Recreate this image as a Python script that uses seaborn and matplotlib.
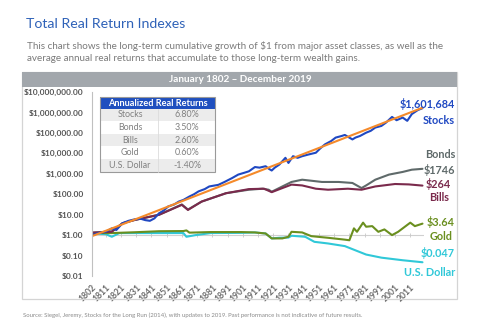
import matplotlib
matplotlib.use("Agg")
import matplotlib.pyplot as plt
import seaborn as sns
import pandas as pd
from matplotlib.patches import Rectangle
from matplotlib.lines import Line2D
from matplotlib.ticker import FuncFormatter, FixedLocator, NullLocator

# ---------------- data ----------------
stock_years = [1802, 1806, 1811, 1815, 1818, 1822, 1826, 1830, 1834, 1837, 1840, 1843, 1846,
               1849, 1852, 1856, 1859, 1862, 1866, 1869, 1872, 1876, 1879, 1882, 1885, 1889,
               1894, 1898, 1902, 1905, 1909, 1912, 1916, 1918, 1920, 1922, 1925, 1929, 1931,
               1934, 1937, 1940, 1944, 1949, 1952, 1955, 1959, 1962, 1966, 1968, 1973,
               1975, 1978, 1982, 1985, 1988, 1992, 1995, 1999, 2002, 2006, 2009, 2012, 2016,
               2019]
stock_values = [1.0, 1.26, 1.45, 2.14, 1.78, 3.8, 5.0, 5.9, 6.3, 5.4, 5.0, 6.6, 11.7,
                15.8, 25.1, 31.6, 43.7, 52.5, 77.6, 100, 138, 178, 240, 263, 288, 398,
                617, 912, 1122, 1318, 2138, 1995, 2344, 1778, 1445, 1995, 2818, 6026, 3388,
                7244, 6026, 7244, 8710, 10720, 17780, 27540, 39810, 58880, 70790, 79430,
                47860, 58880, 70790, 102300, 125900, 182000, 218800, 316200, 602600, 416900,
                562300, 389000, 831800, 1318000, 1601684]

trend_years = [1802, 2019]
trend_values = [0.89, 1700000]

bond_years = [1802, 1815, 1822, 1830, 1846, 1861, 1865, 1874, 1890, 1905, 1914, 1918, 1920,
              1927, 1933, 1940, 1946, 1953, 1964, 1973, 1979, 1982, 1988, 1997, 2006, 2012,
              2019]
bond_values = [1.32, 1.51, 3.8, 5.5, 10, 31.6, 17.8, 43.7, 112, 166, 186, 166, 132,
               240, 398, 513, 457, 398, 398, 355, 200, 269, 513, 912, 1230, 1585, 1746]

bill_years = [1802, 1815, 1822, 1830, 1846, 1861, 1865, 1874, 1890, 1905, 1915, 1920, 1927,
              1933, 1940, 1949, 1957, 1970, 1979, 1988, 2001, 2010, 2019]
bill_values = [1.32, 1.45, 3.8, 5.5, 9.8, 30.2, 17.0, 43.7, 112, 178, 186, 126, 200,
               295, 269, 186, 166, 186, 166, 240, 316, 302, 264]

gold_years = [1802, 1815, 1830, 1846, 1862, 1864, 1866, 1880, 1900, 1909, 1916, 1920, 1927,
              1931, 1933, 1940, 1946, 1957, 1968, 1971, 1974, 1976, 1980, 1982, 1986, 1990,
              1994, 1999, 2003, 2011, 2014, 2019]
gold_values = [1.26, 1.26, 1.38, 1.55, 1.58, 1.7, 1.32, 1.41, 1.41, 1.35, 1.2, 0.69, 0.69,
               0.83, 1.45, 1.35, 0.89, 0.74, 0.6, 0.56, 2.14, 1.45, 4.07, 2.57, 2.75, 1.45,
               1.9, 1.0, 1.45, 4.07, 2.75, 3.64]

usd_years = [1802, 1811, 1815, 1820, 1840, 1862, 1864, 1870, 1880, 1900, 1909, 1916, 1920,
             1925, 1931, 1933, 1942, 1948, 1957, 1968, 1975, 1982, 1992, 2006, 2019]
usd_values = [1.2, 1.12, 0.83, 1.26, 1.26, 1.26, 0.83, 1.0, 1.26, 1.29, 1.35, 1.2, 0.69,
              0.74, 0.76, 0.93, 0.83, 0.47, 0.39, 0.29, 0.18, 0.112, 0.079, 0.059, 0.047]

x_ticks = [1802, 1811, 1821, 1831, 1841, 1851, 1861, 1871, 1881, 1891, 1901, 1911, 1921,
           1931, 1941, 1951, 1961, 1971, 1981, 1991, 2001, 2011]
y_ticks = [0.01, 0.1, 1, 10, 100, 1000, 10000, 100000, 1000000, 10000000]

table_assets = ["Stocks", "Bonds", "Bills", "Gold", "U.S. Dollar"]
table_returns = ["6.80%", "3.50%", "2.60%", "0.60%", "-1.40%"]

end_values = ["$1,601,684", "$1746", "$264", "$3.64", "$0.047"]
end_names = ["Stocks", "Bonds", "Bills", "Gold", "U.S. Dollar"]

title = "Total Real Return Indexes"
subtitle = ("This chart shows the long-term cumulative growth of $1 from major asset classes, as well as the\n"
            "average annual real returns that accumulate to those long-term wealth gains.")
header = "January 1802 \u2013 December 2019"
source = ("Source: Siegel, Jeremy, Stocks for the Long Run (2014), with updates to 2019. "
          "Past performance is not indicative of future results.")

# ---------------- styling ----------------
C_STOCK = "#1f48c2"
C_TREND = "#f58a2a"
C_BOND = "#5f6a6a"
C_BILL = "#7a2a4c"
C_GOLD = "#6a8f1f"
C_USD = "#30c8d8"

sns.set_theme(style="white")
plt.rcParams['font.family'] = ['Lato', 'DejaVu Sans']

W, H = 503, 330
fig = plt.figure(figsize=(W / 100, H / 100), dpi=100)
fig.patch.set_facecolor("white")


def fx(px):
    return px / W


def fy(py):
    return 1 - py / H


ax = fig.add_axes([fx(92), fy(276), fx(424) - fx(92), fy(92) - fy(276)])

frames = []
for name, yrs, vals in [("U.S. Dollar", usd_years, usd_values),
                        ("Gold", gold_years, gold_values),
                        ("Bonds", bond_years, bond_values),
                        ("Bills", bill_years, bill_values),
                        ("Stocks", stock_years, stock_values),
                        ("Trend", trend_years, trend_values)]:
    frames.append(pd.DataFrame({"year": yrs, "value": vals, "series": name}))
df = pd.concat(frames, ignore_index=True)

palette = {"U.S. Dollar": C_USD, "Gold": C_GOLD, "Bonds": C_BOND,
           "Bills": C_BILL, "Stocks": C_STOCK, "Trend": C_TREND}
ax.axhline(1, color="#d0d0d0", lw=0.8, zorder=0)
sns.lineplot(data=df, x="year", y="value", hue="series",
             hue_order=["U.S. Dollar", "Gold", "Bonds", "Bills", "Stocks", "Trend"],
             palette=palette, estimator=None, legend=False, linewidth=1.5, ax=ax)
ax.scatter(x_ticks, [1] * len(x_ticks), marker="|", s=12, color="#c8c8c8", lw=0.6, zorder=0)

ax.set_yscale("log")
ax.set_ylim(0.01, 1e7)
ax.set_xlim(1802, 2020)
ax.yaxis.set_major_locator(FixedLocator(y_ticks))
ax.yaxis.set_minor_locator(NullLocator())
ax.yaxis.set_major_formatter(FuncFormatter(lambda v, p: "${:,.2f}".format(v)))
ax.set_xticks(x_ticks)
ax.set_xticklabels([str(t) for t in x_ticks], rotation=45, ha="right",
                   rotation_mode="anchor", fontsize=6.2, fontweight="bold", color="#6a6a6a")
ax.tick_params(axis="x", length=0, pad=5)
ax.tick_params(axis="y", length=3, width=0.6, color="#bbbbbb", labelsize=6, labelcolor="#555555", pad=3)
for lab in ax.get_yticklabels():
    lab.set_fontweight("bold")
ax.set_xlabel("")
ax.set_ylabel("")
for s in ["top", "right", "bottom"]:
    ax.spines[s].set_visible(False)
ax.spines["left"].set_color("#c0c0c0")
ax.spines["left"].set_linewidth(0.8)

# frame and header bar
fig.add_artist(Rectangle((fx(22), fy(299)), fx(457) - fx(22), fy(72) - fy(299),
                         transform=fig.transFigure, fill=False, edgecolor="#d4d4d4", lw=0.9))
fig.add_artist(Rectangle((fx(22), fy(87)), fx(457) - fx(22), fy(72) - fy(87),
                         transform=fig.transFigure, facecolor="#a2a7ac", edgecolor="none"))
fig.text(fx(240), fy(80), header, ha="center", va="center", color="white",
         fontsize=7.2, fontweight="bold")

# titles
fig.text(fx(26), fy(24), title, ha="left", va="center", color="#2f62b8", fontsize=10.2,
         fontweight="normal")
fig.text(fx(27), fy(52), subtitle, ha="left", va="center", color="#7a7a7a",
         fontsize=7.1, linespacing=1.3)
fig.text(fx(23), fy(315), source, ha="left", va="center", color="#8a8a8a", fontsize=4.3)

# inset table
tx0, tx1, tmid = 100, 215, 158
fig.add_artist(Rectangle((fx(tx0), fy(108.5)), fx(tx1) - fx(tx0), fy(97) - fy(108.5),
                         transform=fig.transFigure, facecolor="#1f4fbf", edgecolor="none"))
fig.text(fx((tx0 + tx1) / 2), fy(103), "Annualized Real Returns", ha="center", va="center",
         color="white", fontsize=6.6, fontweight="bold")
row_h = 12.6
for i, (a, r) in enumerate(zip(table_assets, table_returns)):
    top = 108.5 + i * row_h
    if i % 2 == 0:
        fig.add_artist(Rectangle((fx(tx0), fy(top + row_h)), fx(tx1) - fx(tx0), fy(top) - fy(top + row_h),
                                 transform=fig.transFigure, facecolor="#ececec", edgecolor="none"))
    cy = top + row_h / 2
    fig.text(fx(130), fy(cy), a, ha="center", va="center", color="#808080", fontsize=6.4)
    fig.text(fx(187), fy(cy), r, ha="center", va="center", color="#808080", fontsize=6.4)
fig.add_artist(Rectangle((fx(tx0), fy(108.5 + 5 * row_h)), fx(tx1) - fx(tx0),
                         fy(97) - fy(108.5 + 5 * row_h),
                         transform=fig.transFigure, fill=False, edgecolor="#9a9a9a", lw=0.8))
fig.add_artist(Line2D([fx(tmid), fx(tmid)], [fy(108.5), fy(108.5 + 5 * row_h)],
                      transform=fig.transFigure, color="#dcdcdc", lw=0.6))

# end labels
lab_specs = [
    (end_values[0], 455, 104, C_STOCK), (end_names[0], 455, 120, C_STOCK),
    (end_names[1], 455, 154, C_BOND), (end_values[1], 455, 170, C_BOND),
    (end_values[2], 451, 184, C_BILL), (end_names[2], 449, 197.5, C_BILL),
    (end_values[3], 455, 222, C_GOLD), (end_names[3], 453, 236, C_GOLD),
    (end_values[4], 455, 253, C_USD), (end_names[4], 455, 272.5, C_USD),
]
for txt, x, y, c in lab_specs:
    fig.text(fx(x), fy(y), txt, ha="right", va="center", color=c, fontsize=7.8, fontweight="bold")

fig.savefig("out.png", dpi=100, facecolor="white")
